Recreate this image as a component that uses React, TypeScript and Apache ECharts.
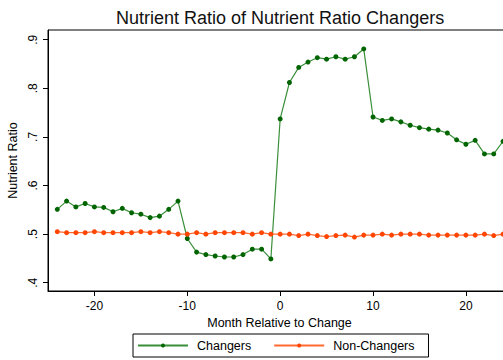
import React, { useEffect, useRef } from "react";
import * as echarts from "echarts";

const months = [
  -24, -23, -22, -21, -20, -19, -18, -17, -16, -15, -14, -13, -12, -11, -10, -9,
  -8, -7, -6, -5, -4, -3, -2, -1, 0, 1, 2, 3, 4, 5, 6, 7, 8, 9, 10, 11, 12, 13,
  14, 15, 16, 17, 18, 19, 20, 21, 22, 23, 24,
];

const changers = [
  0.551, 0.568, 0.556, 0.563, 0.556, 0.555, 0.546, 0.553, 0.544, 0.541, 0.534,
  0.537, 0.551, 0.568, 0.491, 0.463, 0.458, 0.455, 0.453, 0.453, 0.458, 0.469,
  0.469, 0.449, 0.737, 0.812, 0.843, 0.854, 0.863, 0.86, 0.865, 0.86, 0.865,
  0.881, 0.741, 0.734, 0.737, 0.731, 0.724, 0.719, 0.716, 0.714, 0.708, 0.694,
  0.685, 0.693, 0.665, 0.665, 0.691,
];

const nonChangers = [
  0.505, 0.503, 0.503, 0.503, 0.505, 0.503, 0.503, 0.503, 0.503, 0.505, 0.503,
  0.505, 0.503, 0.5, 0.5, 0.503, 0.5, 0.503, 0.503, 0.503, 0.503, 0.5, 0.503,
  0.5, 0.5, 0.5, 0.497, 0.5, 0.497, 0.495, 0.497, 0.498, 0.494, 0.498, 0.498,
  0.5, 0.498, 0.5, 0.5, 0.5, 0.498, 0.498, 0.498, 0.498, 0.498, 0.498, 0.5,
  0.497, 0.5,
];

const xTicks = [-20, -10, 0, 10, 20];
const yTicks = [0.4, 0.5, 0.6, 0.7, 0.8, 0.9];

const FONT = "'Liberation Sans', Arial, sans-serif";

export default function App() {
  const ref = useRef<HTMLDivElement>(null);
  useEffect(() => {
    document.body.style.margin = "0";
    const chart = echarts.init(ref.current!, null, { renderer: "svg" });
    chart.setOption({
      animation: false,
      backgroundColor: "#ffffff",
      textStyle: { fontFamily: FONT },
      title: {
        text: "Nutrient Ratio of Nutrient Ratio Changers",
        left: 116,
        top: 9,
        padding: 0,
        textStyle: {
          fontFamily: FONT,
          fontSize: 18,
          fontWeight: "normal",
          color: "#111",
        },
      },
      grid: {
        left: 48,
        top: 30,
        width: 475,
        bottom: 69,
        outerBoundsMode: "none",
        containLabel: false,
        show: true,
        borderColor: "#000",
        borderWidth: 1,
        backgroundColor: "#fff",
      },
      legend: {
        left: 133,
        top: 334,
        itemWidth: 50,
        itemHeight: 5,
        itemGap: 22,
        padding: [5, 14, 5, 4],
        borderColor: "#000",
        borderWidth: 1,
        textStyle: {
          fontFamily: FONT,
          fontSize: 12.5,
          color: "#000",
          padding: [0, 0, 0, 4],
        },
        data: ["Changers", "Non-Changers"],
      },
      xAxis: {
        type: "value",
        min: -25,
        max: 26.15,
        name: "Month Relative to Change",
        nameLocation: "middle",
        nameGap: 22,
        nameTextStyle: {
          fontFamily: FONT,
          fontSize: 12.5,
          color: "#000",
          padding: [0, 12, 0, 0],
        },
        axisLine: { show: true, onZero: false, lineStyle: { color: "#000", width: 1 } },
        axisTick: {
          show: true,
          length: 5,
          customValues: xTicks,
          lineStyle: { color: "#000" },
        },
        axisLabel: {
          customValues: xTicks,
          margin: 9,
          fontFamily: FONT,
          fontSize: 12,
          color: "#000",
        },
        splitLine: { show: false },
      },
      yAxis: {
        type: "value",
        min: 0.383,
        max: 0.92,
        name: "Nutrient Ratio",
        nameLocation: "middle",
        nameGap: 23,
        nameTextStyle: { fontFamily: FONT, fontSize: 12.5, color: "#000" },
        axisLine: { show: true, onZero: false, lineStyle: { color: "#000", width: 1 } },
        axisTick: {
          show: true,
          length: 5,
          customValues: yTicks,
          lineStyle: { color: "#000" },
        },
        axisLabel: {
          customValues: yTicks,
          rotate: 90,
          margin: 9,
          fontFamily: FONT,
          fontSize: 12,
          color: "#000",
          formatter: (v: number) => v.toFixed(1).replace(/^0/, ""),
        },
        splitLine: { show: false },
      },
      series: [
        {
          name: "Changers",
          type: "line",
          data: months.map((m, i) => [m, changers[i]]),
          symbol: "circle",
          symbolSize: 5,
          itemStyle: { color: "#006400" },
          lineStyle: { color: "#3a8f3a", width: 1.2 },
        },
        {
          name: "Non-Changers",
          type: "line",
          data: months.map((m, i) => [m, nonChangers[i]]),
          symbol: "circle",
          symbolSize: 5,
          itemStyle: { color: "#ff4500" },
          lineStyle: { color: "#ff6a33", width: 1.2 },
        },
      ],
    });
    return () => chart.dispose();
  }, []);
  return <div ref={ref} style={{ width: 503, height: 360 }} />;
}
